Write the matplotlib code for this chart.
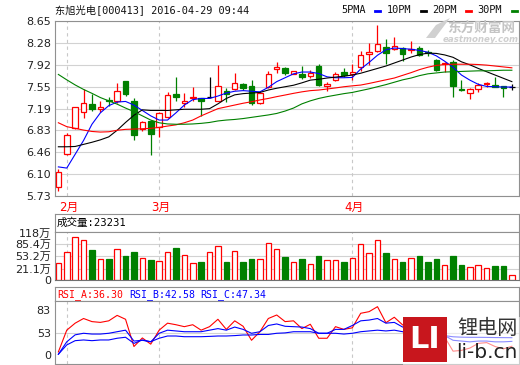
import matplotlib
matplotlib.use('Agg')
import matplotlib.pyplot as plt
from matplotlib.patches import Rectangle, Polygon
from matplotlib.lines import Line2D
from matplotlib import transforms

plt.rcParams['font.family'] = ['DejaVu Sans', 'Noto Sans CJK SC']
MONO = ['DejaVu Sans Mono', 'Noto Sans CJK SC']

# daily candles, 2016-01-29 .. 2016-04-29 (index = trading day)
opens  = [5.88, 6.43, 6.87, 7.13, 7.26, 7.18, 7.33, 7.32, 7.65, 7.31,
          6.85, 6.98, 6.88, 7.05, 7.43, 7.29, 7.36, 7.36, 7.39, 7.32,
          7.48, 7.51, 7.60, 7.57, 7.28, 7.55, 7.85, 7.86, 7.77, 7.77,
          7.73, 7.90, 7.57, 7.67, 7.80, 7.76, 7.89, 8.10, 8.15, 8.21,
          8.18, 8.20, 8.16, 8.20, 8.14, 8.00, 7.93, 7.96, 7.515, 7.45,
          7.51, 7.60, 7.58, 7.57, 7.555]
highs  = [6.18, 6.79, 7.22, 7.51, 7.43, 7.32, 7.39, 7.62, 7.65, 7.37,
          6.98, 7.00, 7.14, 7.46, 7.72, 7.45, 7.55, 7.36, 7.71, 7.92,
          7.54, 7.79, 7.62, 7.66, 7.47, 7.82, 7.96, 7.88, 7.81, 7.90,
          7.83, 7.93, 7.64, 7.80, 7.86, 7.93, 8.15, 8.28, 8.58, 8.35,
          8.39, 8.22, 8.31, 8.23, 8.17, 8.01, 7.97, 8.00, 7.67, 7.53,
          7.61, 7.63, 7.72, 7.57, 7.60]
lows   = [5.82, 6.42, 6.85, 7.03, 7.15, 7.14, 7.23, 7.29, 7.40, 6.67,
          6.81, 6.42, 6.72, 7.04, 7.32, 7.22, 7.32, 7.06, 7.37, 7.31,
          7.30, 7.50, 7.50, 7.25, 7.27, 7.53, 7.78, 7.75, 7.76, 7.68,
          7.70, 7.56, 7.49, 7.65, 7.72, 7.67, 7.81, 7.92, 8.14, 7.93,
          8.17, 7.99, 8.12, 8.06, 8.07, 7.82, 7.80, 7.39, 7.49, 7.35,
          7.47, 7.55, 7.545, 7.38, 7.50]
closes = [6.13, 6.75, 7.21, 7.28, 7.18, 7.21, 7.31, 7.48, 7.43, 6.75,
          6.96, 6.76, 7.11, 7.42, 7.39, 7.32, 7.39, 7.32, 7.39, 7.57,
          7.44, 7.62, 7.53, 7.29, 7.45, 7.77, 7.88, 7.78, 7.81, 7.71,
          7.79, 7.58, 7.60, 7.77, 7.75, 7.80, 8.08, 8.14, 8.26, 8.11,
          8.23, 8.10, 8.18, 8.08, 8.12, 7.83, 7.95, 7.57, 7.505, 7.51,
          7.58, 7.62, 7.545, 7.53, 7.555]

ma5  = [6.22, 6.20, 6.43, 6.66, 6.93, 7.12, 7.24, 7.30, 7.31, 7.25,
        7.16, 7.07, 7.00, 7.00, 7.12, 7.25, 7.34, 7.36, 7.36, 7.40,
        7.45, 7.48, 7.49, 7.48, 7.47, 7.545, 7.64, 7.705, 7.77, 7.80,
        7.80, 7.775, 7.72, 7.705, 7.705, 7.71, 7.85, 7.96, 8.08, 8.17,
        8.20, 8.19, 8.18, 8.16, 8.13, 8.07, 7.98, 7.88, 7.75, 7.665,
        7.595, 7.56, 7.555, 7.55, 7.55]
ma10 = [6.555, 6.555, 6.56, 6.595, 6.63, 6.67, 6.72, 6.83, 6.96, 7.08,
        7.17, 7.16, 7.16, 7.16, 7.17, 7.18, 7.18, 7.18, 7.19, 7.27,
        7.36, 7.42, 7.44, 7.45, 7.46, 7.50, 7.53, 7.555, 7.58, 7.62,
        7.665, 7.68, 7.70, 7.715, 7.73, 7.75, 7.78, 7.82, 7.86, 7.90,
        7.95, 8.00, 8.05, 8.09, 8.115, 8.11, 8.085, 8.045, 7.97, 7.92,
        7.86, 7.805, 7.75, 7.695, 7.64]
ma20 = [6.955, 6.89, 6.862, 6.833, 6.81, 6.80, 6.805, 6.83, 6.845, 6.85,
        6.855, 6.862, 6.878, 6.90, 6.92, 6.955, 7.0, 7.07, 7.13, 7.19,
        7.22, 7.25, 7.28, 7.305, 7.335, 7.36, 7.39, 7.417, 7.445, 7.47,
        7.49, 7.50, 7.517, 7.535, 7.555, 7.57, 7.583, 7.61, 7.64, 7.67,
        7.70, 7.745, 7.79, 7.84, 7.88, 7.91, 7.925, 7.93, 7.93, 7.93,
        7.925, 7.915, 7.90, 7.885, 7.87]
ma30 = [7.76, 7.67, 7.585, 7.51, 7.445, 7.375, 7.32, 7.265, 7.20, 7.14,
        7.07, 7.00, 6.955, 6.935, 6.93, 6.93, 6.935, 6.945, 6.96, 6.985,
        7.0, 7.01, 7.025, 7.045, 7.065, 7.085, 7.11, 7.15, 7.20, 7.27,
        7.32, 7.36, 7.39, 7.415, 7.44, 7.46, 7.49, 7.52, 7.555, 7.59,
        7.63, 7.67, 7.70, 7.74, 7.77, 7.785, 7.80, 7.805, 7.81, 7.815,
        7.82, 7.82, 7.825, 7.83, 7.83]

# volume in 万
volume = [43.8, 70.0, 108.0, 100.0, 76.0, 52.0, 53.0, 77.6, 60.7, 70.8,
          54.8, 50.6, 47.2, 70.0, 81.0, 62.4, 43.0, 45.5, 70.0, 85.0,
          45.5, 72.5, 45.5, 52.3, 52.3, 92.7, 77.6, 58.2, 45.5, 53.0,
          40.5, 60.7, 49.7, 49.7, 45.5, 54.8, 90.2, 68.3, 100.3, 68.3,
          52.3, 45.5, 54.8, 60.7, 45.5, 52.3, 37.1, 60.7, 38.0, 32.0,
          37.1, 29.5, 34.6, 34.6, 11.8]

rsi_a = [29, 57, 66, 72, 68, 67, 69, 76, 71, 36,
         47, 39, 57, 66, 64, 61.5, 64, 57, 61.5, 71,
         58, 69, 62, 44, 55, 72, 76.5, 68, 69, 59,
         64.6, 46.6, 46.6, 61.5, 58, 60, 78.7, 80.8, 87.2, 66.6,
         73.6, 63.7, 61.5, 58, 55, 45, 48, 30, 31, 34,
         40, 41, 36, 33, 36.3]
rsi_b = [26, 42, 51, 53, 52, 52, 53, 55, 57, 43,
         44, 42, 53, 57, 56, 55, 55, 55, 57, 59,
         57, 61, 58, 53, 55, 63, 65, 62, 61.5, 61,
         59, 53, 53, 58, 58, 63, 69, 70, 72, 66,
         67, 61, 59, 57, 55, 50, 50, 44, 43, 42,
         43, 43, 42, 42, 42.58]
rsi_c = [26, 38, 43.5, 44.4, 43.5, 44.4, 44.4, 46.6, 47.9, 40,
         44.4, 42.2, 46.6, 49.5, 49.5, 48.6, 48.6, 48.6, 49, 49.5,
         49.5, 50, 50.8, 50.8, 51.5, 51.5, 53, 53.5, 55, 55,
         55, 53, 53, 53, 52, 53, 55, 56, 57, 56,
         57, 55, 54, 53.5, 52.5, 51, 50, 48.5, 48, 47.8,
         47.8, 47.7, 47.5, 47.4, 47.34]

month_pos = [1, 12, 35]
month_labels = ['2月', '3月', '4月']
price_ticks = [5.73, 6.10, 6.46, 6.83, 7.19, 7.55, 7.92, 8.28, 8.65]
# the software spreads the volume labels evenly, so the gridlines sit there too
vol_ticks = [0, 27.8, 60.6, 91.0, 118]
vol_labels = ['0', '21.1万', '53.2万', '85.4万', '118万']
rsi_ticks = [25.1, 53, 83]
rsi_labels = ['0', '53', '83']

ma_names = ['5PMA', '10PM', '20PM', '30PM']
ma_colors = ['#0000ff', '#000000', '#ff0000', '#008000']

RED, GREEN = '#ff0000', '#008000'
SPINE, GRID, DASH = '#909090', '#d2d2d2', '#c8c8c8'

W, H = 520, 365
fig = plt.figure(figsize=(W / 100, H / 100), dpi=100)


def box(x0, y0, x1, y1):
    # axes placed in pixel coordinates of the picture
    return fig.add_axes([x0 / W, 1 - y1 / H, (x1 - x0) / W, (y1 - y0) / H])


def style(a):
    for s in a.spines.values():
        s.set_color(SPINE)
        s.set_linewidth(0.8)
    a.set_xticks([])
    a.tick_params(axis='y', length=0, pad=3, labelsize=8, labelcolor='#222222')


n = len(closes)
idx = list(range(n))
xlim = (-0.4, 54.85)

# ---- price panel ----
ax = box(55, 21, 519, 196.3)
style(ax)
ax.set_xlim(*xlim)
ax.set_ylim(5.73, 8.65)
ax.set_yticks(price_ticks)
ax.set_yticklabels(['%.2f' % v for v in price_ticks])
for v in price_ticks:
    ax.axhline(v, color=GRID, lw=0.8, zorder=0)
for m in month_pos:
    ax.axvline(m, color=DASH, lw=0.8, ls=(0, (3, 3)), zorder=0)

for i in idx:
    o, h, l, c = opens[i], highs[i], lows[i], closes[i]
    if c > o:
        col, face = RED, 'white'
    elif c < o:
        col, face = GREEN, GREEN
    else:
        col, face = 'black', 'black'
    ax.vlines(i, l, h, color=col, lw=0.9, zorder=2)
    if c == o:
        ax.hlines(o, i - 0.35, i + 0.35, color=col, lw=0.9, zorder=3)
    else:
        ax.add_patch(Rectangle((i - 0.33, min(o, c)), 0.66, abs(c - o),
                               facecolor=face, edgecolor=col, lw=0.9, zorder=3))

for ser, col in zip([ma5, ma10, ma20, ma30], ma_colors):
    ax.plot(idx, ser, color=col, lw=0.8, zorder=4)

mt = transforms.offset_copy(ax.get_xaxis_transform(), fig=fig, x=2, y=0, units='dots')
for m, lab in zip(month_pos, month_labels):
    ax.text(m, -0.061, lab, transform=mt, ha='center', va='center',
            color=RED, fontsize=8.5)

# ---- volume panel ----
tv = box(55, 214, 519, 232)
style(tv)
tv.set_yticks([])
tv.text(2 / 464, 0.5, '成交量:23231', transform=tv.transAxes, va='center',
        family=MONO, fontsize=7.6, color='black')

av = box(55, 232, 519, 280)
style(av)
av.spines['bottom'].set_color('#707070')
av.set_xlim(*xlim)
av.set_ylim(0, 121.4)
av.set_yticks(vol_ticks)
av.set_yticklabels(vol_labels)
for v in vol_ticks[1:-1]:
    av.axhline(v, color=GRID, lw=0.8, zorder=0)
for m in month_pos:
    av.axvline(m, color=DASH, lw=0.8, ls=(0, (3, 3)), zorder=0)
vcol = [RED if closes[i] >= opens[i] else GREEN for i in idx]
vface = ['white' if c == RED else GREEN for c in vcol]
av.bar(idx, volume, width=0.66, color=vface, edgecolor=vcol, linewidth=0.9, zorder=2)

# ---- RSI panel ----
tr = box(55, 287, 519, 301)
style(tr)
tr.set_yticks([])
for x0, lab, col in [(2, 'RSI_A:36.30', RED), (74, 'RSI_B:42.58', '#0000ff'),
                     (145, 'RSI_C:47.34', '#0000ff')]:
    tr.text(x0 / 464, 0.45, lab, transform=tr.transAxes, va='center',
            family=MONO, fontsize=7.1, color=col)

ar = box(55, 301, 519, 364)
style(ar)
ar.set_xlim(*xlim)
ar.set_ylim(13.5, 94.5)
ar.set_yticks(rsi_ticks)
ar.set_yticklabels(rsi_labels)
ar.axhline(53, color=GRID, lw=0.8, zorder=0)
for m in month_pos:
    ar.axvline(m, color=DASH, lw=0.8, ls=(0, (3, 3)), zorder=0)
ar.plot(idx, rsi_a, color=RED, lw=0.8)
ar.plot(idx, rsi_b, color='#0000ff', lw=0.8)
ar.plot(idx, rsi_c, color='#0000ff', lw=0.8)

# ---- header ----
fig.text(55 / W, 1 - 10 / H, '东旭光电[000413] 2016-04-29 09:44', va='center',
         family=MONO, fontsize=7.4, color='#111111')
for k, (name, col) in enumerate(zip(ma_names, ma_colors)):
    x0 = 341 + 45.5 * k
    fig.text(x0 / W, 1 - 10 / H, name, va='center', family=MONO,
             fontsize=7.4, color='#111111')
    fig.add_artist(Line2D([(x0 + 34) / W, (x0 + 39) / W], [1 - 11 / H] * 2,
                          color=col, lw=2, transform=fig.transFigure))

# eastmoney watermark (top right)
fig.add_artist(Polygon([(426 / W, 1 - 38 / H), (436 / W, 1 - 25 / H), (450 / W, 1 - 18 / H),
                        (444 / W, 1 - 26 / H), (435 / W, 1 - 38 / H)],
                       closed=True, transform=fig.transFigure, facecolor='#d0d0d0',
                       edgecolor='none', zorder=10))
fig.text(447 / W, 1 - 28 / H, '东方财富网', va='center', fontsize=9.8,
         fontweight='bold', color='#c4c4c4', family=['Noto Sans CJK SC'], zorder=10)
fig.text(443 / W, 1 - 40 / H, 'eastmoney.com', va='center', fontsize=6.2,
         fontweight='bold', style='italic', color='#cfcfcf', zorder=10)

# li-b.cn watermark (bottom right)
fig.add_artist(Rectangle((403 / W, 0), 117 / W, 48 / H, transform=fig.transFigure,
                         facecolor='white', alpha=0.55, edgecolor='none', zorder=9))
fig.add_artist(Rectangle((403 / W, 1 - 362 / H), 44 / W, 45 / H, transform=fig.transFigure,
                         facecolor='#c8161d', edgecolor='none', zorder=10))
fig.text(425 / W, 1 - 340 / H, 'LI', ha='center', va='center', fontsize=22,
         fontweight='bold', color='white', zorder=11)
fig.text(487 / W, 1 - 328 / H, '锂电网', ha='center', va='center', fontsize=14.5,
         color='#333333', family=['Noto Sans CJK SC'], zorder=11)
fig.text(487 / W, 1 - 352 / H, 'li-b.cn', ha='center', va='center', fontsize=14.5,
         color='#222222', zorder=11)

fig.savefig('out.png', dpi=100)
